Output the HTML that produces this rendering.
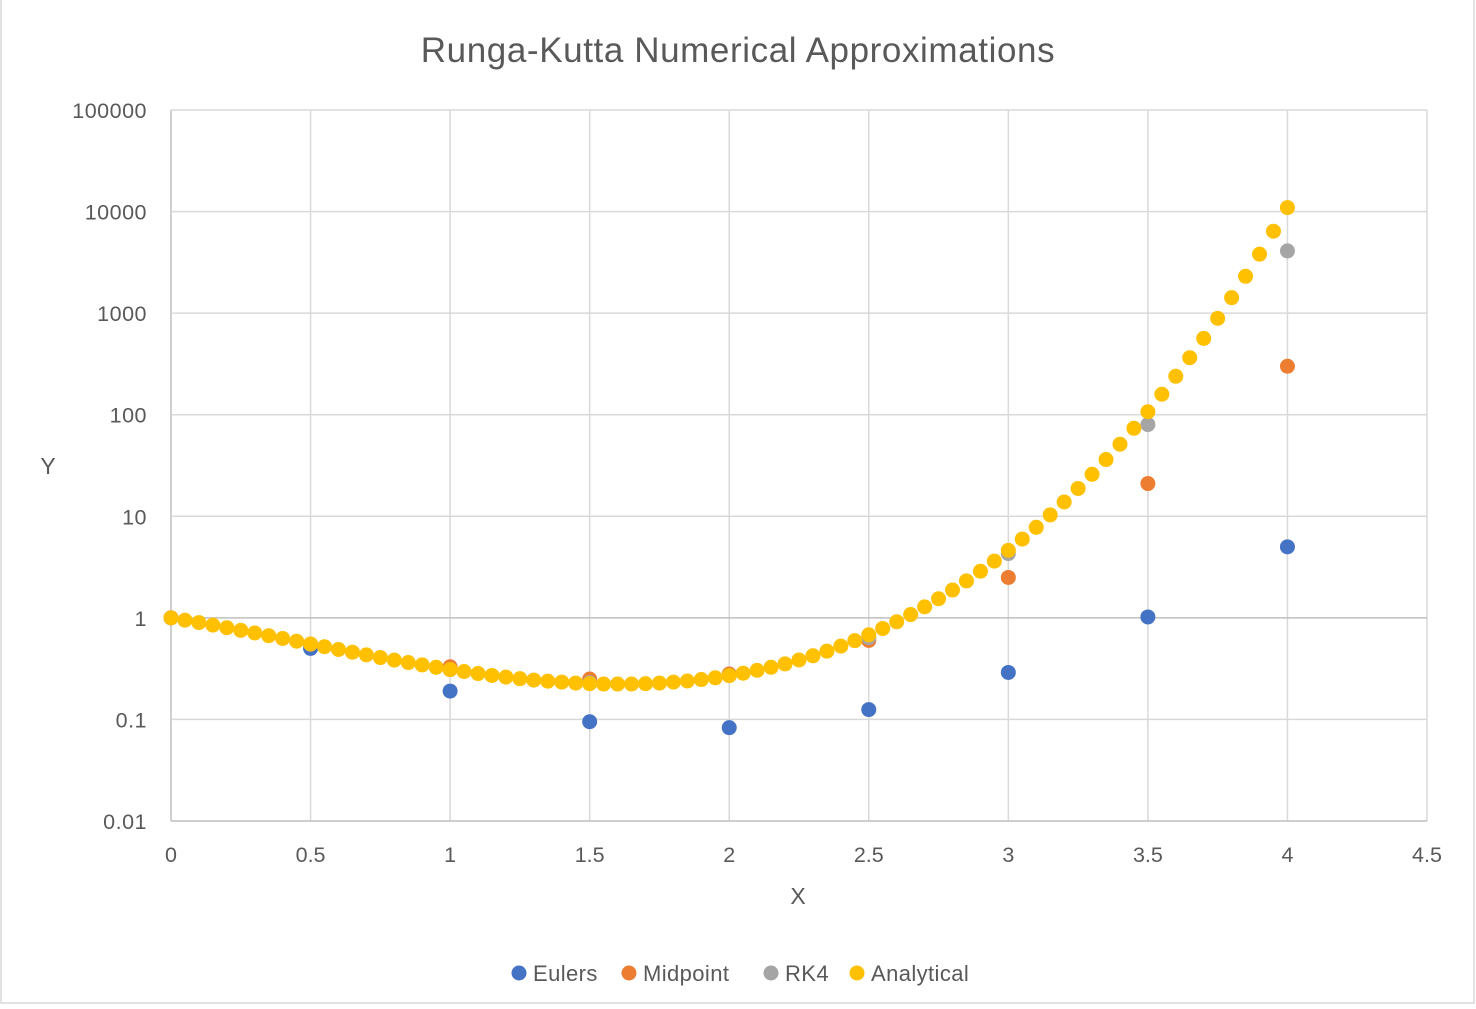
<!DOCTYPE html>
<html><head><meta charset="utf-8"><style>
body{margin:0;background:#fff;font-family:"Liberation Sans",sans-serif}
svg text{font-family:"Liberation Sans",sans-serif;fill:#595959}
</style></head><body>
<svg id="c" width="1476" height="1004">
<rect x="1" y="-2" width="1473" height="1005" fill="#fff" stroke="#d9d9d9" stroke-width="1.5"/>
<text x="738" y="62" font-size="35" letter-spacing="0.6" text-anchor="middle">Runga-Kutta Numerical Approximations</text>
<g id="grid"></g><g id="ticks"></g><g id="marks"></g>
<text x="48" y="474" font-size="23" text-anchor="middle">Y</text>
<text x="798" y="904" font-size="23" text-anchor="middle">X</text>
<g id="legend"></g>
</svg>
<script>
const xTicks=[0,0.5,1,1.5,2,2.5,3,3.5,4,4.5];
const yTicks=[0.01,0.1,1,10,100,1000,10000,100000];
const yTickLabels=["0.01","0.1","1","10","100","1000","10000","100000"];
const stepX=[0,0.5,1,1.5,2,2.5,3,3.5,4];
const eulers=[1,0.5,0.19,0.095,0.083,0.125,0.29,1.02,5.0];
const midpoint=[1,0.55,0.33,0.25,0.28,0.6,2.5,21,300];
const rk4=[1,0.55,0.31,0.23,0.27,0.64,4.3,80,4100];
const analyticalX=[0,0.05,0.1,0.15,0.2,0.25,0.3,0.35,0.4,0.45,0.5,0.55,0.6,0.65,0.7,0.75,0.8,0.85,0.9,0.95,1,1.05,1.1,1.15,1.2,1.25,1.3,1.35,1.4,1.45,1.5,1.55,1.6,1.65,1.7,1.75,1.8,1.85,1.9,1.95,2,2.05,2.1,2.15,2.2,2.25,2.3,2.35,2.4,2.45,2.5,2.55,2.6,2.65,2.7,2.75,2.8,2.85,2.9,2.95,3,3.05,3.1,3.15,3.2,3.25,3.3,3.35,3.4,3.45,3.5,3.55,3.6,3.65,3.7,3.75,3.8,3.85,3.9,3.95,4];
const analytical=[1,0.948,0.898,0.848,0.8,0.754,0.71,0.667,0.627,0.589,0.553,0.52,0.488,0.459,0.432,0.407,0.384,0.363,0.344,0.326,0.31,0.296,0.283,0.271,0.261,0.252,0.244,0.238,0.233,0.228,0.225,0.223,0.223,0.223,0.225,0.228,0.233,0.239,0.247,0.257,0.27,0.285,0.304,0.326,0.352,0.385,0.423,0.47,0.527,0.596,0.681,0.786,0.915,1.078,1.283,1.543,1.878,2.31,2.876,3.62,4.62,5.96,7.79,10.32,13.84,18.8,25.9,36.2,51.2,73.5,107,159,239,364,564,888,1420,2305,3810,6410,10940];
const NS="http://www.w3.org/2000/svg";
const X0=171,X1=1427,Y0=821,Y1=110;
const sx=v=>X0+(v-0)/4.5*(X1-X0);
const sy=v=>Y0-(Math.log10(v)+2)/7*(Y0-Y1);
function mk(p,t,a){const e=document.createElementNS(NS,t);for(const k in a)e.setAttribute(k,a[k]);p.appendChild(e);return e;}
const grid=document.getElementById('grid'),ticks=document.getElementById('ticks'),marks=document.getElementById('marks'),legend=document.getElementById('legend');
xTicks.forEach((t,i)=>{
 const l=mk(grid,'line',{x1:sx(t),x2:sx(t),y1:Y1,y2:Y0,stroke:i==0?'#bfbfbf':'#d9d9d9','stroke-width':1.5});
 
 
 const tx=mk(ticks,'text',{x:sx(t),y:862,'font-size':21.5,'text-anchor':'middle'});tx.textContent=String(t);
 
 
});
yTicks.forEach((t,i)=>{
 const l=mk(grid,'line',{x1:X0,x2:X1,y1:sy(t),y2:sy(t),stroke:(t==1||t==0.01)?'#bfbfbf':'#d9d9d9','stroke-width':1.5});
 
 
 const tx=mk(ticks,'text',{x:147,y:sy(t)+8,'font-size':21.5,'letter-spacing':'0.5','text-anchor':'end'});tx.textContent=yTickLabels[i];
 
 
});
const series=[["Eulers",stepX,eulers,"#4472c4"],["Midpoint",stepX,midpoint,"#ed7d31"],["RK4",stepX,rk4,"#a5a5a5"],["Analytical",analyticalX,analytical,"#ffc000"]];
series.forEach(s=>{
 s[1].forEach((x,i)=>{
  const c=mk(marks,'circle',{cx:sx(x),cy:sy(s[2][i]),r:7.5,fill:s[3]});
  
  
 });
});
const lx=[519,629,771,857];
series.forEach((s,i)=>{
 const c=mk(legend,'circle',{cx:lx[i],cy:973,r:7.5,fill:s[3]});
 
 
 const t=mk(legend,'text',{x:lx[i]+14,y:981,'font-size':22,'letter-spacing':'0.4'});t.textContent=s[0];
 
 
});
</script>
</body></html>
